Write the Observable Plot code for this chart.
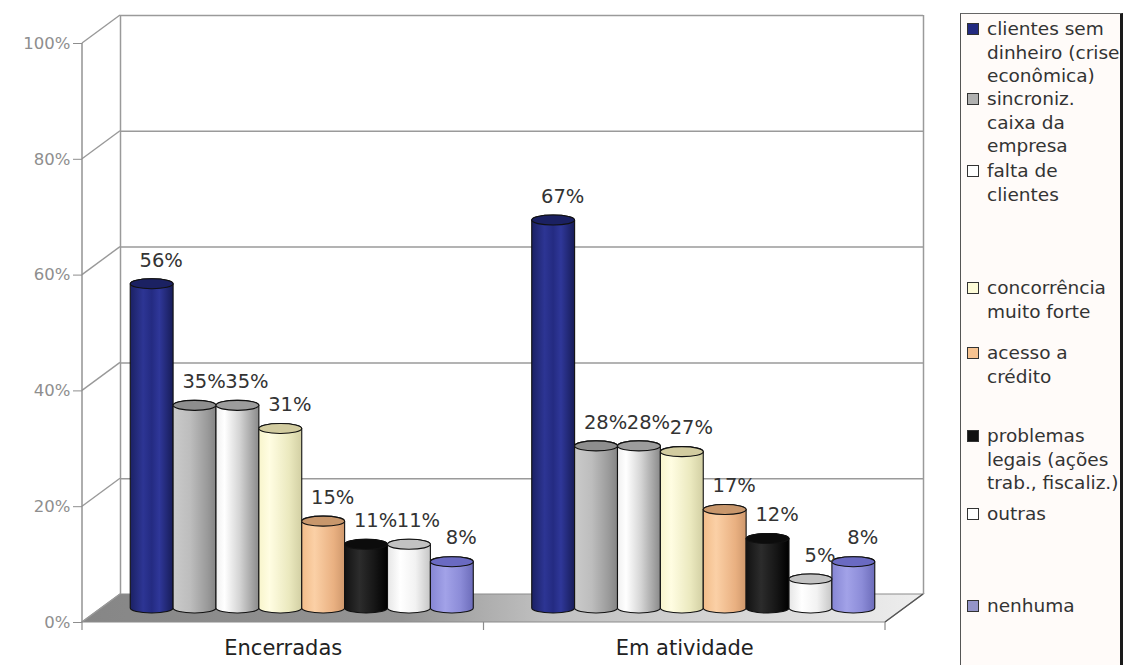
<!DOCTYPE html>
<html><head><meta charset="utf-8">
<script src="https://cdn.jsdelivr.net/npm/d3@7"></script>
<script src="https://cdn.jsdelivr.net/npm/@observablehq/plot@0.6"></script>
<style>
html,body{margin:0;padding:0;background:#fff;width:1126px;height:665px;overflow:hidden;}
#wrap{position:relative;width:1126px;height:665px;}
#chart{position:absolute;left:0;top:0;}
#legend{position:absolute;left:960px;top:13px;width:159px;height:660px;border-left:1.5px solid #555;border-top:1.5px solid #666;border-right:3px solid #1a1a1a;background:#fffbf9;font-family:"DejaVu Sans";font-size:18.5px;line-height:23.5px;color:#333;}
.item{position:absolute;left:0;}
.sw{position:absolute;left:6px;width:10px;height:10px;border:1px solid #333;}
.tx{position:absolute;left:26px;white-space:nowrap;}
</style></head><body><div id="wrap"><div id="chart"></div><div id="legend"></div></div>
<script>
// ---- data ----
const categories = ["Encerradas", "Em atividade"];
const series = [
  "clientes sem dinheiro (crise econômica)",
  "sincroniz. caixa da empresa",
  "falta de clientes",
  "concorrência muito forte",
  "acesso a crédito",
  "problemas legais (ações trab., fiscaliz.)",
  "outras",
  "nenhuma"
];
const encerradas  = [56, 35, 35, 31, 15, 11, 11, 8];
const emAtividade = [67, 28, 28, 27, 17, 12, 5, 8];
const yTicks = [0, 20, 40, 60, 80, 100];
const legendLines = [
  ["clientes sem", "dinheiro (crise", "econômica)"],
  ["sincroniz.", "caixa da", "empresa"],
  ["falta de", "clientes"],
  ["concorrência", "muito forte"],
  ["acesso a", "crédito"],
  ["problemas", "legais (ações", "trab., fiscaliz.)"],
  ["outras"],
  ["nenhuma"]
];

// ---- styles ----
const bodyStops = [
  [["0","#1b2164"],[".3","#2d3594"],[".5","#242b82"],[".68","#2f3799"],["1","#171c58"]],
  [["0","#cacaca"],[".4","#bdbdbd"],[".8","#9a9a9a"],["1","#858585"]],
  [["0","#f0f0f0"],[".2","#ffffff"],[".55","#d4d4d4"],[".85","#a3a3a3"],["1","#8a8a8a"]],
  [["0","#f8f5cc"],[".25","#fffde2"],[".7","#ebe9bf"],["1","#d2cfa3"]],
  [["0","#f2bd8a"],[".3","#fbd0a6"],[".75","#e9b081"],["1","#cf986c"]],
  [["0","#121212"],[".35","#2c2c2c"],[".7","#161616"],["1","#000000"]],
  [["0","#e6e6e6"],[".3","#ffffff"],[".65","#f2f2f2"],["1","#c6c6c6"]],
  [["0","#8686d4"],[".35","#a2a2e8"],[".7","#8c8cd8"],["1","#6c6cba"]]
];
const topColors = ["#1b2162","#8e8e8e","#9c9c9c","#d2cca0","#c8976c","#0c0c0c","#c2c2c2","#6a6ac2"];
const swatchColors = ["#232a80","#b0b0b0","#ffffff","#fdfbd8","#f7c391","#111111","#ffffff","#9494c8"];
const legendTops = [28, 98, 170, 287, 352, 435, 513, 605]; // centre of first line (page px)

// ---- layout ----
const DX = 38, DY = -28;           // depth of the 3D box
const MDX = DX / 2, MDY = DY / 2;  // bars sit in the middle
const STEP = 0.1068, PAD = (1 - 8 * STEP) / 2;

const values = [encerradas, emAtividade];
const data = categories.flatMap((c, ci) => values[ci].map((v, si) => ({
  cat: c, ci, si, series: series[si], v,
  x1: ci + PAD + si * STEP, x2: ci + PAD + (si + 1) * STEP
})));

function decor(index, scales) {
  const x = scales.x, y = scales.y;
  const g = d3.create("svg:g");
  const defs = g.append("defs");
  bodyStops.forEach((stops, i) => {
    const lg = defs.append("linearGradient").attr("id", "bar" + i).attr("x1", 0).attr("x2", 1).attr("y1", 0).attr("y2", 0);
    stops.forEach(([o, c]) => lg.append("stop").attr("offset", o).attr("stop-color", c));
  });
  const fg = defs.append("linearGradient").attr("id", "floorGrad").attr("x1", 0).attr("x2", 1).attr("y1", 0).attr("y2", 0);
  [["0","#868686"],[".38","#949494"],[".55","#c0c0c0"],[".8","#d8d8d8"],["1","#eeeeee"]]
    .forEach(([o, c]) => fg.append("stop").attr("offset", o).attr("stop-color", c));
  const x0 = x(0), x2 = x(categories.length), y0 = y(0), yt = y(100);
  // back wall
  g.append("rect").attr("x", x0 + DX).attr("y", yt + DY).attr("width", x2 - x0).attr("height", y0 - yt).attr("fill", "#fff");
  // floor
  g.append("path").attr("d", `M${x0},${y0}L${x2},${y0}L${x2 + DX},${y0 + DY}L${x0 + DX},${y0 + DY}Z`)
    .attr("fill", "url(#floorGrad)").attr("stroke", "#8c8c8c").attr("stroke-width", 1.2);
  g.append("line").attr("x1", x2).attr("y1", y0).attr("x2", x2 + DX).attr("y2", y0 + DY).attr("stroke", "#555").attr("stroke-width", 1.3);
  // side-wall diagonals
  yTicks.forEach(v => g.append("line").attr("x1", x0).attr("y1", y(v)).attr("x2", x0 + DX).attr("y2", y(v) + DY)
    .attr("stroke", "#999").attr("stroke-width", 1.4));
  // front value axis line
  g.append("line").attr("x1", x0).attr("x2", x0).attr("y1", y0).attr("y2", yt).attr("stroke", "#8c8c8c").attr("stroke-width", 1.4);
  // category boundary ticks
  d3.range(categories.length + 1).forEach(k => g.append("line").attr("x1", x(k)).attr("x2", x(k)).attr("y1", y0).attr("y2", y0 + 8)
    .attr("stroke", "#8c8c8c").attr("stroke-width", 1.2));
  return g.node();
}

const chart = Plot.plot({
  width: 960, height: 665,
  marginLeft: 82, marginRight: 75, marginTop: 43, marginBottom: 43,
  style: {fontFamily: "DejaVu Sans", fontSize: "16px", color: "#8e8e8e", background: "transparent", overflow: "visible"},
  x: {domain: [0, categories.length], axis: null},
  y: {domain: [0, 100], ticks: yTicks, tickFormat: d => d + "%", tickSize: 9, tickPadding: 3, label: null},
  color: {type: "identity"},
  marks: [
    decor,
    Plot.ruleY(yTicks.slice(1), {dx: DX, dy: DY, stroke: "#9a9a9a", strokeWidth: 1.5}),
    Plot.ruleX([0, categories.length], {dx: DX, dy: DY, stroke: "#9a9a9a", strokeWidth: 1.5}),
    Plot.rect(data, {x1: "x1", x2: "x2", y1: 0, y2: "v", dx: MDX, dy: MDY, insetTop: -5, insetBottom: -5, rx: 21, ry: 5,
      fill: d => `url(#bar${d.si})`, stroke: "#111", strokeWidth: 1.1}),
    Plot.rect(data, {x1: "x1", x2: "x2", y1: "v", y2: "v", dx: MDX, dy: MDY, insetTop: -5, insetBottom: -5, rx: 21, ry: 5,
      fill: d => topColors[d.si], stroke: "#111", strokeWidth: 1.1}),
    Plot.text(data, {x: d => (d.x1 + d.x2) / 2, y: "v", text: d => d.v + "%", dx: MDX + 9, dy: MDY - 24,
      fontSize: 19.5, fill: "#333"}),
    Plot.text(categories, {x: (d, i) => i + 0.5, y: () => 0, text: d => d, dy: 26, fontSize: 21, fill: "#222"})
  ]
});
document.getElementById("chart").appendChild(chart);
// enlarge the value-axis tick labels
d3.select(chart).selectAll('[aria-label^="y-axis"] text, g[aria-label="y-axis"] text')
  .style("font-size", "16.5px").attr("font-size", "16.5px");

// ---- legend ----
const legend = d3.select("#legend");
const LH = 23.5, legendTop = 13;
series.forEach((s, i) => {
  const item = legend.append("div").attr("class", "item")
    .style("top", (legendTops[i] - legendTop - LH / 2) + "px");
  item.append("div").attr("class", "sw").style("background", swatchColors[i])
    .style("top", (LH / 2 - 6) + "px");
  item.append("div").attr("class", "tx").html(legendLines[i].join("<br>"));
});
</script>
</body></html>
